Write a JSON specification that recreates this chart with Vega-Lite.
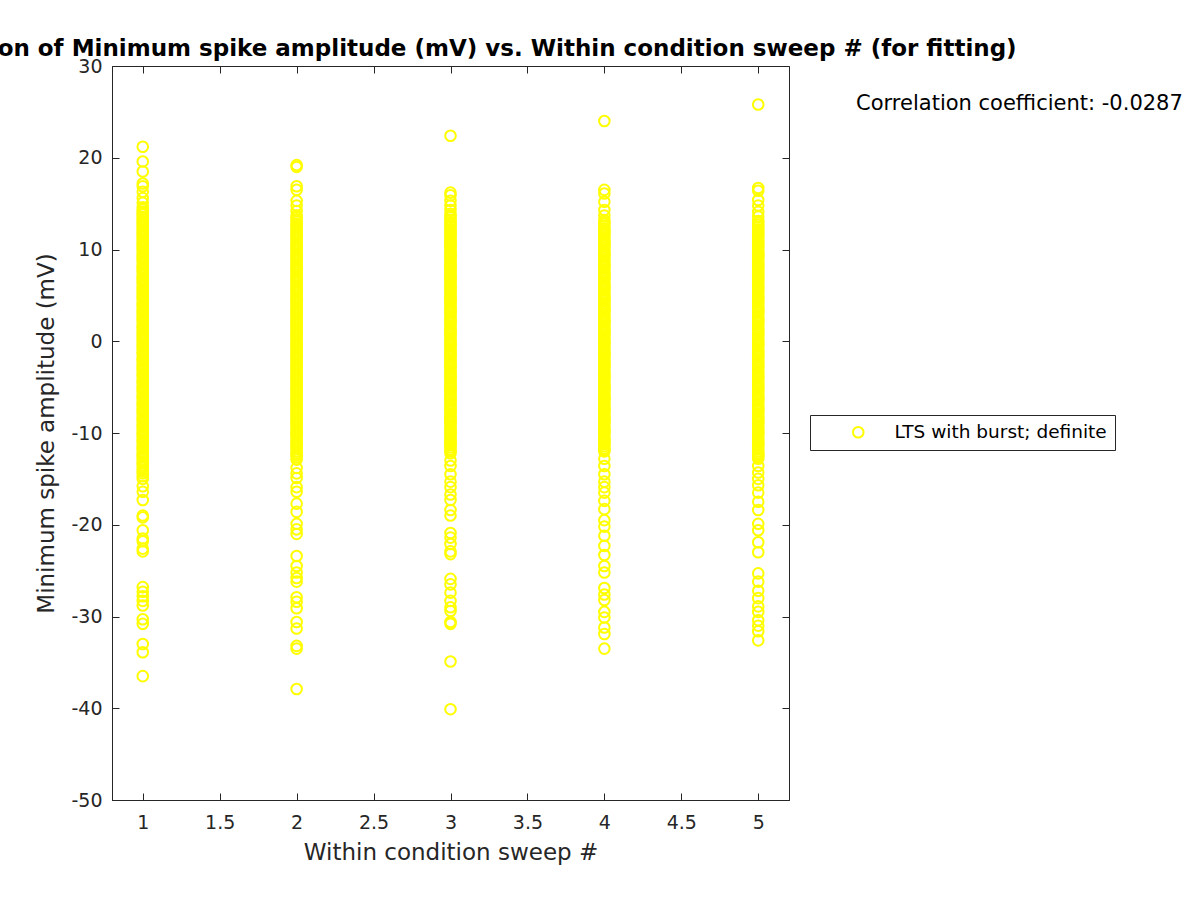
{
  "$schema": "https://vega.github.io/schema/vega-lite/v6.json",
  "autosize": {"type": "none"},
  "width": 677,
  "height": 734,
  "padding": {"left": 112, "top": 66, "right": 411, "bottom": 100},
  "background": "white",
  "title": {"text": "Correlation of Minimum spike amplitude (mV) vs. Within condition sweep # (for fitting)", "font": "DejaVu Sans", "fontSize": 23, "fontWeight": "bold", "color": "black", "offset": -4, "anchor": "middle"},
  "config": {
    "view": {"stroke": "#262626", "strokeWidth": 1},
    "axis": {"domainColor": "#262626", "tickColor": "#262626", "labelColor": "#262626", "labelFont": "DejaVu Sans", "labelFontSize": 19, "titleFont": "DejaVu Sans", "titleFontSize": 23, "titleFontWeight": "normal", "titleColor": "#262626", "grid": false, "tickSize": -7, "labelExpr": "toString(datum.value)"}
  },
  "datasets": {
    "pts": [
      {"s":1,"a":21.2},{"s":1,"a":19.6},{"s":1,"a":18.5},{"s":1,"a":17.2},{"s":1,"a":16.9},{"s":1,"a":16.3},{"s":1,"a":15.6},{"s":1,"a":15.1},
      {"s":1,"a":14.6},{"s":1,"a":14.1},{"s":1,"a":13.8},{"s":1,"a":13.3},{"s":1,"a":12.9},{"s":1,"a":12.6},{"s":1,"a":12.1},{"s":1,"a":11.7},{"s":1,"a":11.4},{"s":1,"a":10.9},{"s":1,"a":10.5},{"s":1,"a":10.2},{"s":1,"a":9.8},{"s":1,"a":9.3},{"s":1,"a":9.0},{"s":1,"a":8.6},{"s":1,"a":8.1},{"s":1,"a":7.8},{"s":1,"a":7.4},{"s":1,"a":6.9},{"s":1,"a":6.6},{"s":1,"a":6.2},{"s":1,"a":5.7},{"s":1,"a":5.4},{"s":1,"a":5.0},{"s":1,"a":4.6},{"s":1,"a":4.1},{"s":1,"a":3.8},{"s":1,"a":3.3},{"s":1,"a":3.0},{"s":1,"a":2.6},{"s":1,"a":2.2},{"s":1,"a":1.7},{"s":1,"a":1.4},{"s":1,"a":0.9},{"s":1,"a":0.6},{"s":1,"a":0.2},{"s":1,"a":-0.3},{"s":1,"a":-0.6},{"s":1,"a":-1.1},{"s":1,"a":-1.4},{"s":1,"a":-1.9},{"s":1,"a":-2.2},{"s":1,"a":-2.7},{"s":1,"a":-3.0},{"s":1,"a":-3.5},{"s":1,"a":-3.8},{"s":1,"a":-4.3},{"s":1,"a":-4.6},{"s":1,"a":-5.1},{"s":1,"a":-5.4},{"s":1,"a":-5.9},{"s":1,"a":-6.2},{"s":1,"a":-6.7},{"s":1,"a":-7.0},{"s":1,"a":-7.5},{"s":1,"a":-7.8},{"s":1,"a":-8.3},{"s":1,"a":-8.6},{"s":1,"a":-9.1},{"s":1,"a":-9.4},{"s":1,"a":-9.9},{"s":1,"a":-10.2},{"s":1,"a":-10.7},{"s":1,"a":-11.0},{"s":1,"a":-11.5},{"s":1,"a":-11.8},{"s":1,"a":-12.3},{"s":1,"a":-12.6},{"s":1,"a":-13.1},{"s":1,"a":-13.5},{"s":1,"a":-14.0},{"s":1,"a":-14.4},{"s":1,"a":-15.0},
      {"s":1,"a":14.35},{"s":1,"a":13.95},{"s":1,"a":13.55},{"s":1,"a":13.1},{"s":1,"a":12.75},{"s":1,"a":12.35},{"s":1,"a":11.9},{"s":1,"a":11.55},{"s":1,"a":11.15},{"s":1,"a":10.7},{"s":1,"a":10.35},{"s":1,"a":9.95},{"s":1,"a":9.55},{"s":1,"a":9.15},{"s":1,"a":8.8},{"s":1,"a":8.35},{"s":1,"a":7.95},{"s":1,"a":7.6},{"s":1,"a":7.15},{"s":1,"a":6.75},{"s":1,"a":6.4},{"s":1,"a":5.95},{"s":1,"a":5.55},{"s":1,"a":5.2},{"s":1,"a":4.8},{"s":1,"a":4.35},{"s":1,"a":3.95},{"s":1,"a":3.55},{"s":1,"a":3.15},{"s":1,"a":2.8},{"s":1,"a":2.4},{"s":1,"a":1.95},{"s":1,"a":1.55},{"s":1,"a":1.15},{"s":1,"a":0.75},{"s":1,"a":0.4},{"s":1,"a":0.0},{"s":1,"a":-0.45},{"s":1,"a":-0.85},{"s":1,"a":-1.25},{"s":1,"a":-1.65},{"s":1,"a":-2.05},{"s":1,"a":-2.45},{"s":1,"a":-2.85},{"s":1,"a":-3.25},{"s":1,"a":-3.65},{"s":1,"a":-4.05},{"s":1,"a":-4.45},{"s":1,"a":-4.85},{"s":1,"a":-5.25},{"s":1,"a":-5.65},{"s":1,"a":-6.05},{"s":1,"a":-6.45},{"s":1,"a":-6.85},{"s":1,"a":-7.25},{"s":1,"a":-7.65},{"s":1,"a":-8.05},{"s":1,"a":-8.45},{"s":1,"a":-8.85},{"s":1,"a":-9.25},{"s":1,"a":-9.65},{"s":1,"a":-10.05},{"s":1,"a":-10.45},{"s":1,"a":-10.85},{"s":1,"a":-11.25},{"s":1,"a":-11.65},{"s":1,"a":-12.05},{"s":1,"a":-12.45},{"s":1,"a":-12.85},{"s":1,"a":-13.3},{"s":1,"a":-13.75},{"s":1,"a":-14.2},{"s":1,"a":-14.7},
      {"s":1,"a":-15.8},{"s":1,"a":-16.4},{"s":1,"a":-17.3},{"s":1,"a":-19.0},{"s":1,"a":-19.2},{"s":1,"a":-20.6},{"s":1,"a":-21.5},{"s":1,"a":-21.8},{"s":1,"a":-22.6},{"s":1,"a":-22.9},{"s":1,"a":-26.8},{"s":1,"a":-27.3},{"s":1,"a":-27.8},{"s":1,"a":-28.3},{"s":1,"a":-28.8},{"s":1,"a":-30.3},{"s":1,"a":-30.8},{"s":1,"a":-33.0},{"s":1,"a":-33.9},{"s":1,"a":-36.5},

      {"s":2,"a":19.2},{"s":2,"a":19.0},{"s":2,"a":16.9},{"s":2,"a":16.5},{"s":2,"a":15.3},{"s":2,"a":14.8},{"s":2,"a":14.2},
      {"s":2,"a":13.7},{"s":2,"a":13.3},{"s":2,"a":12.8},{"s":2,"a":12.5},{"s":2,"a":12.0},{"s":2,"a":11.6},{"s":2,"a":11.3},{"s":2,"a":10.8},{"s":2,"a":10.4},{"s":2,"a":10.1},{"s":2,"a":9.6},{"s":2,"a":9.2},{"s":2,"a":8.9},{"s":2,"a":8.4},{"s":2,"a":8.0},{"s":2,"a":7.7},{"s":2,"a":7.2},{"s":2,"a":6.8},{"s":2,"a":6.5},{"s":2,"a":6.0},{"s":2,"a":5.6},{"s":2,"a":5.3},{"s":2,"a":4.8},{"s":2,"a":4.4},{"s":2,"a":4.1},{"s":2,"a":3.6},{"s":2,"a":3.2},{"s":2,"a":2.9},{"s":2,"a":2.4},{"s":2,"a":2.0},{"s":2,"a":1.7},{"s":2,"a":1.2},{"s":2,"a":0.8},{"s":2,"a":0.5},{"s":2,"a":0.0},{"s":2,"a":-0.4},{"s":2,"a":-0.7},{"s":2,"a":-1.2},{"s":2,"a":-1.6},{"s":2,"a":-1.9},{"s":2,"a":-2.4},{"s":2,"a":-2.8},{"s":2,"a":-3.1},{"s":2,"a":-3.6},{"s":2,"a":-4.0},{"s":2,"a":-4.3},{"s":2,"a":-4.8},{"s":2,"a":-5.2},{"s":2,"a":-5.5},{"s":2,"a":-6.0},{"s":2,"a":-6.4},{"s":2,"a":-6.7},{"s":2,"a":-7.2},{"s":2,"a":-7.6},{"s":2,"a":-7.9},{"s":2,"a":-8.4},{"s":2,"a":-8.8},{"s":2,"a":-9.1},{"s":2,"a":-9.6},{"s":2,"a":-10.0},{"s":2,"a":-10.3},{"s":2,"a":-10.8},{"s":2,"a":-11.2},{"s":2,"a":-11.5},{"s":2,"a":-12.0},{"s":2,"a":-12.4},{"s":2,"a":-12.9},
      {"s":2,"a":13.5},{"s":2,"a":13.05},{"s":2,"a":12.65},{"s":2,"a":12.25},{"s":2,"a":11.8},{"s":2,"a":11.45},{"s":2,"a":11.05},{"s":2,"a":10.6},{"s":2,"a":10.25},{"s":2,"a":9.85},{"s":2,"a":9.4},{"s":2,"a":9.05},{"s":2,"a":8.65},{"s":2,"a":8.2},{"s":2,"a":7.85},{"s":2,"a":7.45},{"s":2,"a":7.0},{"s":2,"a":6.65},{"s":2,"a":6.25},{"s":2,"a":5.8},{"s":2,"a":5.45},{"s":2,"a":5.05},{"s":2,"a":4.6},{"s":2,"a":4.25},{"s":2,"a":3.85},{"s":2,"a":3.4},{"s":2,"a":3.05},{"s":2,"a":2.65},{"s":2,"a":2.2},{"s":2,"a":1.85},{"s":2,"a":1.45},{"s":2,"a":1.0},{"s":2,"a":0.65},{"s":2,"a":0.25},{"s":2,"a":-0.2},{"s":2,"a":-0.55},{"s":2,"a":-0.95},{"s":2,"a":-1.4},{"s":2,"a":-1.75},{"s":2,"a":-2.15},{"s":2,"a":-2.6},{"s":2,"a":-2.95},{"s":2,"a":-3.35},{"s":2,"a":-3.8},{"s":2,"a":-4.15},{"s":2,"a":-4.55},{"s":2,"a":-5.0},{"s":2,"a":-5.35},{"s":2,"a":-5.75},{"s":2,"a":-6.2},{"s":2,"a":-6.55},{"s":2,"a":-6.95},{"s":2,"a":-7.4},{"s":2,"a":-7.75},{"s":2,"a":-8.15},{"s":2,"a":-8.6},{"s":2,"a":-8.95},{"s":2,"a":-9.35},{"s":2,"a":-9.8},{"s":2,"a":-10.15},{"s":2,"a":-10.55},{"s":2,"a":-11.0},{"s":2,"a":-11.35},{"s":2,"a":-11.75},{"s":2,"a":-12.2},{"s":2,"a":-12.65},
      {"s":2,"a":-13.8},{"s":2,"a":-14.4},{"s":2,"a":-14.9},{"s":2,"a":-15.9},{"s":2,"a":-16.4},{"s":2,"a":-17.7},{"s":2,"a":-18.6},{"s":2,"a":-19.9},{"s":2,"a":-20.5},{"s":2,"a":-21.0},{"s":2,"a":-23.4},{"s":2,"a":-24.5},{"s":2,"a":-25.2},{"s":2,"a":-25.8},{"s":2,"a":-26.2},{"s":2,"a":-27.9},{"s":2,"a":-28.4},{"s":2,"a":-29.1},{"s":2,"a":-30.6},{"s":2,"a":-31.3},{"s":2,"a":-33.2},{"s":2,"a":-33.5},{"s":2,"a":-37.9},

      {"s":3,"a":22.4},{"s":3,"a":16.2},{"s":3,"a":15.9},{"s":3,"a":15.3},{"s":3,"a":14.8},{"s":3,"a":14.3},
      {"s":3,"a":13.9},{"s":3,"a":13.5},{"s":3,"a":13.0},{"s":3,"a":12.7},{"s":3,"a":12.2},{"s":3,"a":11.8},{"s":3,"a":11.5},{"s":3,"a":11.0},{"s":3,"a":10.6},{"s":3,"a":10.3},{"s":3,"a":9.8},{"s":3,"a":9.4},{"s":3,"a":9.1},{"s":3,"a":8.6},{"s":3,"a":8.2},{"s":3,"a":7.9},{"s":3,"a":7.4},{"s":3,"a":7.0},{"s":3,"a":6.7},{"s":3,"a":6.2},{"s":3,"a":5.8},{"s":3,"a":5.5},{"s":3,"a":5.0},{"s":3,"a":4.6},{"s":3,"a":4.3},{"s":3,"a":3.8},{"s":3,"a":3.4},{"s":3,"a":3.1},{"s":3,"a":2.6},{"s":3,"a":2.2},{"s":3,"a":1.9},{"s":3,"a":1.4},{"s":3,"a":1.0},{"s":3,"a":0.7},{"s":3,"a":0.2},{"s":3,"a":-0.2},{"s":3,"a":-0.5},{"s":3,"a":-1.0},{"s":3,"a":-1.4},{"s":3,"a":-1.7},{"s":3,"a":-2.2},{"s":3,"a":-2.6},{"s":3,"a":-2.9},{"s":3,"a":-3.4},{"s":3,"a":-3.8},{"s":3,"a":-4.1},{"s":3,"a":-4.6},{"s":3,"a":-5.0},{"s":3,"a":-5.3},{"s":3,"a":-5.8},{"s":3,"a":-6.2},{"s":3,"a":-6.5},{"s":3,"a":-7.0},{"s":3,"a":-7.4},{"s":3,"a":-7.7},{"s":3,"a":-8.2},{"s":3,"a":-8.6},{"s":3,"a":-8.9},{"s":3,"a":-9.4},{"s":3,"a":-9.8},{"s":3,"a":-10.1},{"s":3,"a":-10.6},{"s":3,"a":-11.0},{"s":3,"a":-11.3},{"s":3,"a":-11.8},{"s":3,"a":-12.2},
      {"s":3,"a":13.7},{"s":3,"a":13.25},{"s":3,"a":12.85},{"s":3,"a":12.45},{"s":3,"a":12.0},{"s":3,"a":11.65},{"s":3,"a":11.25},{"s":3,"a":10.8},{"s":3,"a":10.45},{"s":3,"a":10.05},{"s":3,"a":9.6},{"s":3,"a":9.25},{"s":3,"a":8.85},{"s":3,"a":8.4},{"s":3,"a":8.05},{"s":3,"a":7.65},{"s":3,"a":7.2},{"s":3,"a":6.85},{"s":3,"a":6.45},{"s":3,"a":6.0},{"s":3,"a":5.65},{"s":3,"a":5.25},{"s":3,"a":4.8},{"s":3,"a":4.45},{"s":3,"a":4.05},{"s":3,"a":3.6},{"s":3,"a":3.25},{"s":3,"a":2.85},{"s":3,"a":2.4},{"s":3,"a":2.05},{"s":3,"a":1.65},{"s":3,"a":1.2},{"s":3,"a":0.85},{"s":3,"a":0.45},{"s":3,"a":0.0},{"s":3,"a":-0.35},{"s":3,"a":-0.75},{"s":3,"a":-1.2},{"s":3,"a":-1.55},{"s":3,"a":-1.95},{"s":3,"a":-2.4},{"s":3,"a":-2.75},{"s":3,"a":-3.15},{"s":3,"a":-3.6},{"s":3,"a":-3.95},{"s":3,"a":-4.35},{"s":3,"a":-4.8},{"s":3,"a":-5.15},{"s":3,"a":-5.55},{"s":3,"a":-6.0},{"s":3,"a":-6.35},{"s":3,"a":-6.75},{"s":3,"a":-7.2},{"s":3,"a":-7.55},{"s":3,"a":-7.95},{"s":3,"a":-8.4},{"s":3,"a":-8.75},{"s":3,"a":-9.15},{"s":3,"a":-9.6},{"s":3,"a":-9.95},{"s":3,"a":-10.35},{"s":3,"a":-10.8},{"s":3,"a":-11.15},{"s":3,"a":-11.55},{"s":3,"a":-12.0},
      {"s":3,"a":-13.0},{"s":3,"a":-13.6},{"s":3,"a":-14.5},{"s":3,"a":-15.3},{"s":3,"a":-15.9},{"s":3,"a":-16.7},{"s":3,"a":-17.3},{"s":3,"a":-18.4},{"s":3,"a":-19.0},{"s":3,"a":-20.9},{"s":3,"a":-21.4},{"s":3,"a":-22.1},{"s":3,"a":-22.9},{"s":3,"a":-23.2},{"s":3,"a":-25.9},{"s":3,"a":-26.5},{"s":3,"a":-27.4},{"s":3,"a":-28.3},{"s":3,"a":-29.0},{"s":3,"a":-29.4},{"s":3,"a":-30.6},{"s":3,"a":-30.8},{"s":3,"a":-34.9},{"s":3,"a":-40.1},

      {"s":4,"a":24.0},{"s":4,"a":16.5},{"s":4,"a":16.1},{"s":4,"a":15.2},{"s":4,"a":14.3},{"s":4,"a":13.7},
      {"s":4,"a":13.2},{"s":4,"a":12.8},{"s":4,"a":12.3},{"s":4,"a":11.9},{"s":4,"a":11.6},{"s":4,"a":11.1},{"s":4,"a":10.7},{"s":4,"a":10.4},{"s":4,"a":9.9},{"s":4,"a":9.5},{"s":4,"a":9.2},{"s":4,"a":8.7},{"s":4,"a":8.3},{"s":4,"a":8.0},{"s":4,"a":7.5},{"s":4,"a":7.1},{"s":4,"a":6.8},{"s":4,"a":6.3},{"s":4,"a":5.9},{"s":4,"a":5.6},{"s":4,"a":5.1},{"s":4,"a":4.7},{"s":4,"a":4.4},{"s":4,"a":3.9},{"s":4,"a":3.5},{"s":4,"a":3.2},{"s":4,"a":2.7},{"s":4,"a":2.3},{"s":4,"a":2.0},{"s":4,"a":1.5},{"s":4,"a":1.1},{"s":4,"a":0.8},{"s":4,"a":0.3},{"s":4,"a":-0.1},{"s":4,"a":-0.4},{"s":4,"a":-0.9},{"s":4,"a":-1.3},{"s":4,"a":-1.6},{"s":4,"a":-2.1},{"s":4,"a":-2.5},{"s":4,"a":-2.8},{"s":4,"a":-3.3},{"s":4,"a":-3.7},{"s":4,"a":-4.0},{"s":4,"a":-4.5},{"s":4,"a":-4.9},{"s":4,"a":-5.2},{"s":4,"a":-5.7},{"s":4,"a":-6.1},{"s":4,"a":-6.4},{"s":4,"a":-6.9},{"s":4,"a":-7.3},{"s":4,"a":-7.6},{"s":4,"a":-8.1},{"s":4,"a":-8.5},{"s":4,"a":-8.8},{"s":4,"a":-9.3},{"s":4,"a":-9.7},{"s":4,"a":-10.0},{"s":4,"a":-10.5},{"s":4,"a":-10.9},{"s":4,"a":-11.2},{"s":4,"a":-11.7},{"s":4,"a":-12.0},
      {"s":4,"a":13.0},{"s":4,"a":12.55},{"s":4,"a":12.1},{"s":4,"a":11.75},{"s":4,"a":11.35},{"s":4,"a":10.9},{"s":4,"a":10.55},{"s":4,"a":10.15},{"s":4,"a":9.7},{"s":4,"a":9.35},{"s":4,"a":8.95},{"s":4,"a":8.5},{"s":4,"a":8.15},{"s":4,"a":7.75},{"s":4,"a":7.3},{"s":4,"a":6.95},{"s":4,"a":6.55},{"s":4,"a":6.1},{"s":4,"a":5.75},{"s":4,"a":5.35},{"s":4,"a":4.9},{"s":4,"a":4.55},{"s":4,"a":4.15},{"s":4,"a":3.7},{"s":4,"a":3.35},{"s":4,"a":2.95},{"s":4,"a":2.5},{"s":4,"a":2.15},{"s":4,"a":1.75},{"s":4,"a":1.3},{"s":4,"a":0.95},{"s":4,"a":0.55},{"s":4,"a":0.1},{"s":4,"a":-0.25},{"s":4,"a":-0.65},{"s":4,"a":-1.1},{"s":4,"a":-1.45},{"s":4,"a":-1.85},{"s":4,"a":-2.3},{"s":4,"a":-2.65},{"s":4,"a":-3.05},{"s":4,"a":-3.5},{"s":4,"a":-3.85},{"s":4,"a":-4.25},{"s":4,"a":-4.7},{"s":4,"a":-5.05},{"s":4,"a":-5.45},{"s":4,"a":-5.9},{"s":4,"a":-6.25},{"s":4,"a":-6.65},{"s":4,"a":-7.1},{"s":4,"a":-7.45},{"s":4,"a":-7.85},{"s":4,"a":-8.3},{"s":4,"a":-8.65},{"s":4,"a":-9.05},{"s":4,"a":-9.5},{"s":4,"a":-9.85},{"s":4,"a":-10.25},{"s":4,"a":-10.7},{"s":4,"a":-11.05},{"s":4,"a":-11.45},{"s":4,"a":-11.85},
      {"s":4,"a":-12.8},{"s":4,"a":-13.6},{"s":4,"a":-14.5},{"s":4,"a":-15.3},{"s":4,"a":-15.9},{"s":4,"a":-16.5},{"s":4,"a":-17.4},{"s":4,"a":-18.3},{"s":4,"a":-19.5},{"s":4,"a":-20.2},{"s":4,"a":-21.2},{"s":4,"a":-22.3},{"s":4,"a":-23.3},{"s":4,"a":-24.5},{"s":4,"a":-25.2},{"s":4,"a":-26.9},{"s":4,"a":-27.6},{"s":4,"a":-28.2},{"s":4,"a":-29.5},{"s":4,"a":-30.1},{"s":4,"a":-31.2},{"s":4,"a":-31.9},{"s":4,"a":-33.5},

      {"s":5,"a":25.8},{"s":5,"a":16.7},{"s":5,"a":16.4},{"s":5,"a":15.4},{"s":5,"a":14.8},{"s":5,"a":14.1},{"s":5,"a":13.6},
      {"s":5,"a":13.1},{"s":5,"a":12.7},{"s":5,"a":12.2},{"s":5,"a":11.8},{"s":5,"a":11.5},{"s":5,"a":11.0},{"s":5,"a":10.6},{"s":5,"a":10.3},{"s":5,"a":9.8},{"s":5,"a":9.4},{"s":5,"a":9.1},{"s":5,"a":8.6},{"s":5,"a":8.2},{"s":5,"a":7.9},{"s":5,"a":7.4},{"s":5,"a":7.0},{"s":5,"a":6.7},{"s":5,"a":6.2},{"s":5,"a":5.8},{"s":5,"a":5.5},{"s":5,"a":5.0},{"s":5,"a":4.6},{"s":5,"a":4.3},{"s":5,"a":3.8},{"s":5,"a":3.4},{"s":5,"a":3.1},{"s":5,"a":2.6},{"s":5,"a":2.2},{"s":5,"a":1.9},{"s":5,"a":1.4},{"s":5,"a":1.0},{"s":5,"a":0.7},{"s":5,"a":0.2},{"s":5,"a":-0.2},{"s":5,"a":-0.5},{"s":5,"a":-1.0},{"s":5,"a":-1.4},{"s":5,"a":-1.7},{"s":5,"a":-2.2},{"s":5,"a":-2.6},{"s":5,"a":-2.9},{"s":5,"a":-3.4},{"s":5,"a":-3.8},{"s":5,"a":-4.1},{"s":5,"a":-4.6},{"s":5,"a":-5.0},{"s":5,"a":-5.3},{"s":5,"a":-5.8},{"s":5,"a":-6.2},{"s":5,"a":-6.5},{"s":5,"a":-7.0},{"s":5,"a":-7.4},{"s":5,"a":-7.7},{"s":5,"a":-8.2},{"s":5,"a":-8.6},{"s":5,"a":-8.9},{"s":5,"a":-9.4},{"s":5,"a":-9.8},{"s":5,"a":-10.1},{"s":5,"a":-10.6},{"s":5,"a":-11.0},{"s":5,"a":-11.3},{"s":5,"a":-11.8},{"s":5,"a":-12.2},{"s":5,"a":-12.5},{"s":5,"a":-12.8},
      {"s":5,"a":12.9},{"s":5,"a":12.45},{"s":5,"a":12.0},{"s":5,"a":11.65},{"s":5,"a":11.25},{"s":5,"a":10.8},{"s":5,"a":10.45},{"s":5,"a":10.05},{"s":5,"a":9.6},{"s":5,"a":9.25},{"s":5,"a":8.85},{"s":5,"a":8.4},{"s":5,"a":8.05},{"s":5,"a":7.65},{"s":5,"a":7.2},{"s":5,"a":6.85},{"s":5,"a":6.45},{"s":5,"a":6.0},{"s":5,"a":5.65},{"s":5,"a":5.25},{"s":5,"a":4.8},{"s":5,"a":4.45},{"s":5,"a":4.05},{"s":5,"a":3.6},{"s":5,"a":3.25},{"s":5,"a":2.85},{"s":5,"a":2.4},{"s":5,"a":2.05},{"s":5,"a":1.65},{"s":5,"a":1.2},{"s":5,"a":0.85},{"s":5,"a":0.45},{"s":5,"a":0.0},{"s":5,"a":-0.35},{"s":5,"a":-0.75},{"s":5,"a":-1.2},{"s":5,"a":-1.55},{"s":5,"a":-1.95},{"s":5,"a":-2.4},{"s":5,"a":-2.75},{"s":5,"a":-3.15},{"s":5,"a":-3.6},{"s":5,"a":-3.95},{"s":5,"a":-4.35},{"s":5,"a":-4.8},{"s":5,"a":-5.15},{"s":5,"a":-5.55},{"s":5,"a":-6.0},{"s":5,"a":-6.35},{"s":5,"a":-6.75},{"s":5,"a":-7.2},{"s":5,"a":-7.55},{"s":5,"a":-7.95},{"s":5,"a":-8.4},{"s":5,"a":-8.75},{"s":5,"a":-9.15},{"s":5,"a":-9.6},{"s":5,"a":-9.95},{"s":5,"a":-10.35},{"s":5,"a":-10.8},{"s":5,"a":-11.15},{"s":5,"a":-11.55},{"s":5,"a":-12.0},{"s":5,"a":-12.35},{"s":5,"a":-12.65},
      {"s":5,"a":-13.6},{"s":5,"a":-14.3},{"s":5,"a":-15.0},{"s":5,"a":-15.7},{"s":5,"a":-16.5},{"s":5,"a":-17.5},{"s":5,"a":-18.4},{"s":5,"a":-19.9},{"s":5,"a":-20.6},{"s":5,"a":-21.9},{"s":5,"a":-23.0},{"s":5,"a":-25.3},{"s":5,"a":-26.2},{"s":5,"a":-27.2},{"s":5,"a":-28.0},{"s":5,"a":-28.9},{"s":5,"a":-29.5},{"s":5,"a":-30.4},{"s":5,"a":-31.0},{"s":5,"a":-31.6},{"s":5,"a":-32.6}
    ],
    "note": [{"t": "Correlation coefficient: -0.0287", "s": 5.636, "a": 25.86}]
  },
  "layer": [
    {
      "data": {"name": "pts"},
      "mark": {"type": "point", "shape": "circle", "filled": false, "strokeWidth": 2, "size": 112, "opacity": 1},
      "encoding": {
        "x": {"field": "s", "type": "quantitative", "scale": {"domain": [0.8, 5.2], "nice": false, "zero": false}, "axis": {"values": [1, 1.5, 2, 2.5, 3, 3.5, 4, 4.5, 5], "title": "Within condition sweep #", "labelPadding": 20, "titlePadding": 9}},
        "y": {"field": "a", "type": "quantitative", "scale": {"domain": [-50, 30], "nice": false, "zero": false}, "axis": {"values": [-50, -40, -30, -20, -10, 0, 10, 20, 30], "title": "Minimum spike amplitude (mV)", "labelPadding": 17, "titlePadding": 12}},
        "color": {"datum": "LTS with burst; definite", "type": "nominal", "scale": {"domain": ["LTS with burst; definite"], "range": ["#FFFF00"]},
          "legend": {"title": null, "orient": "none", "legendX": 698, "legendY": 349, "strokeColor": "#262626", "fillColor": "white", "padding": 8, "symbolOffset": 31, "labelOffset": 27, "labelLimit": 500, "labelFont": "DejaVu Sans", "labelFontSize": 18.5, "labelColor": "black", "symbolStrokeWidth": 2, "symbolSize": 112, "symbolType": "circle", "symbolFillColor": "transparent"}}
      }
    },
    {
      "data": {"name": "note"},
      "mark": {"type": "text", "align": "left", "baseline": "middle", "font": "DejaVu Sans", "fontSize": 21, "color": "black", "clip": false},
      "encoding": {
        "x": {"field": "s", "type": "quantitative", "axis": {"orient": "top", "values": [1, 1.5, 2, 2.5, 3, 3.5, 4, 4.5, 5], "labels": false, "title": null, "domain": false}},
        "y": {"field": "a", "type": "quantitative", "axis": {"orient": "right", "values": [-50, -40, -30, -20, -10, 0, 10, 20, 30], "labels": false, "title": null, "domain": false}},
        "text": {"field": "t"}
      }
    }
  ],
  "resolve": {"axis": {"x": "independent", "y": "independent"}}
}
